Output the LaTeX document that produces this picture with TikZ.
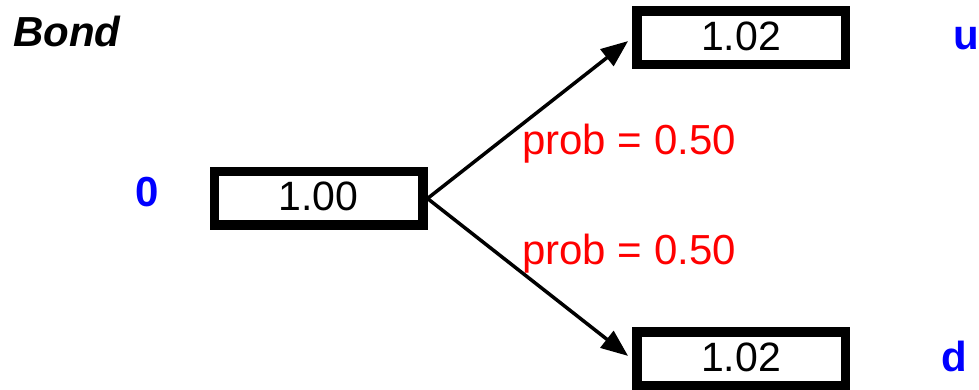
\documentclass[tikz,border=0pt]{standalone}
\usepackage{fontspec}
\setmainfont{Liberation Sans}
\usetikzlibrary{arrows.meta}
\definecolor{lblblue}{RGB}{0,0,255}
\definecolor{lblred}{RGB}{255,0,0}
\tikzset{
  valbox/.style={draw=black, line width=9.5pt, fill=white, minimum width=208.5pt, minimum height=53.5pt, inner sep=0pt, font=\fontsize{41}{45}\selectfont},
  statelbl/.style={text=lblblue, font=\fontsize{42}{46}\selectfont\bfseries, inner sep=0pt},
  problbl/.style={text=lblred, font=\fontsize{42}{46}\selectfont, inner sep=0pt, anchor=base west},
  branch/.style={line width=3.5pt, -{Triangle[length=27pt,width=21pt]}, shorten >=5pt}
}
\begin{document}
\begin{tikzpicture}[x=1pt,y=1pt]
  \useasboundingbox (0,0) rectangle (979,390);
  \node[valbox] (mid) at (318.5,191.5) {\raisebox{5pt}{1.00}};
  \node[valbox] (up) at (741,352) {\raisebox{4pt}{1.02}};
  \node[valbox] (dn) at (741,31) {\raisebox{3pt}{1.02}};
  \draw[branch] (mid.east) -- (up.west);
  \draw[branch] (mid.east) -- (dn.west);
  \node[problbl] (p1) at (522,235) {prob = 0.50};
  \node[problbl] (p2) at (522,125) {prob = 0.50};
  \node[anchor=base west, inner sep=0pt, font=\fontsize{42}{46}\selectfont\bfseries\itshape] (title) at (13,343) {Bond};
  \node[statelbl, anchor=base] (s0) at (147,183) {0};
  \node[statelbl, anchor=base west] (su) at (953,340) {u};
  \node[statelbl, anchor=base west] (sd) at (941,18) {d};
\end{tikzpicture}
\end{document}
